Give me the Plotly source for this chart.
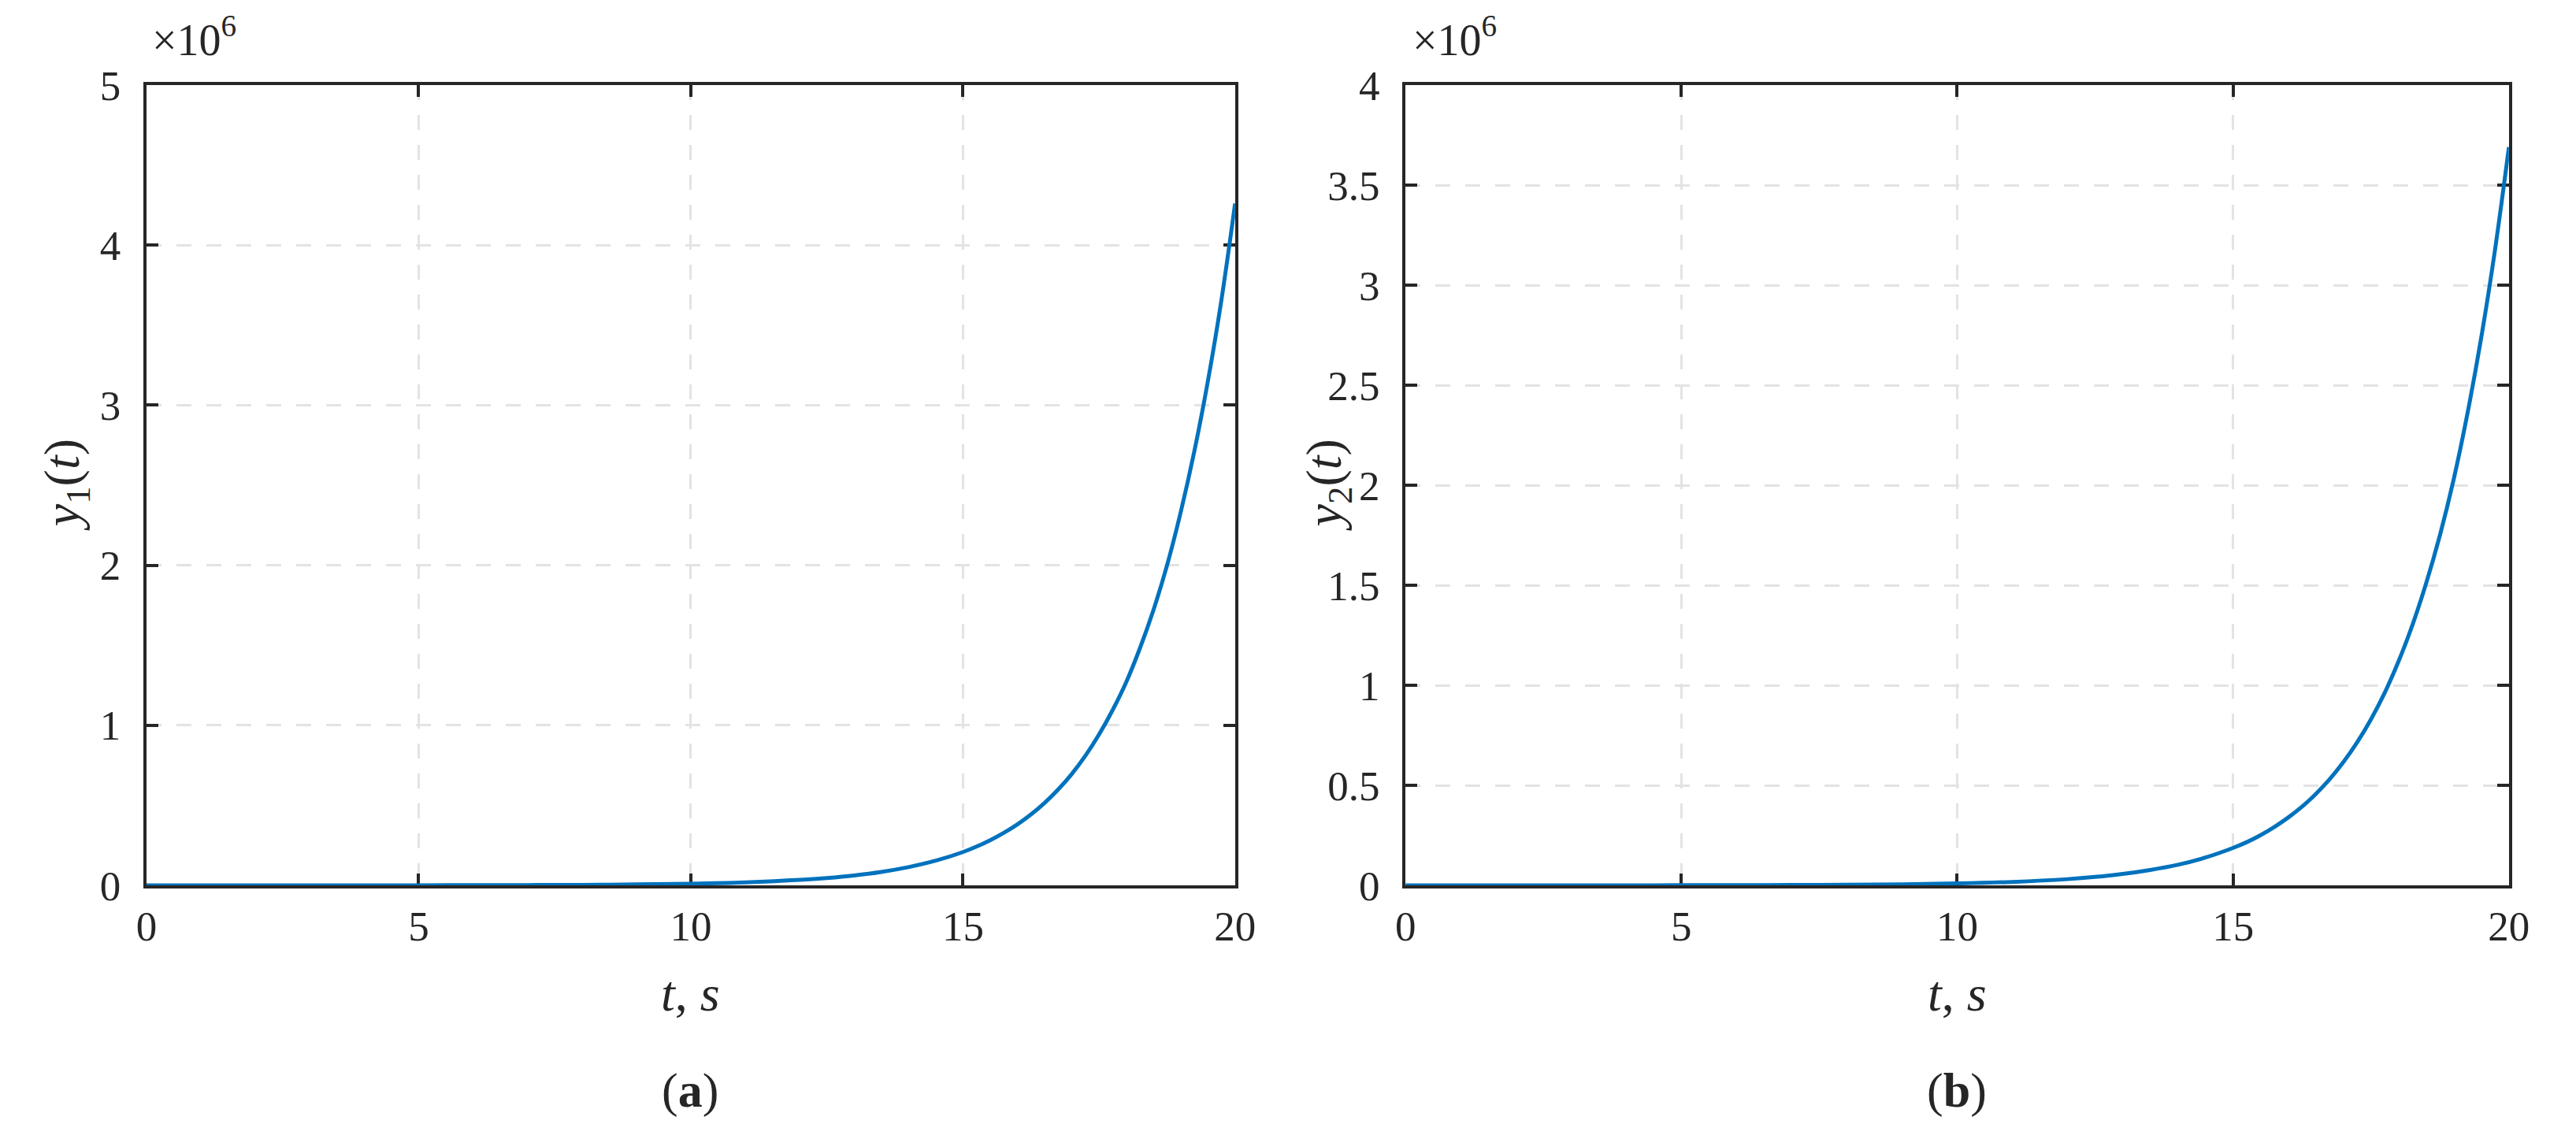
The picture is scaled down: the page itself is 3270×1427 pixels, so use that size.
import plotly.graph_objects as go

# tiempo (s)
t = [0, 1, 2, 3, 4, 5, 6, 7, 8, 9, 10, 11, 12, 12.5, 13, 13.5, 14, 14.5,
     15, 15.25, 15.5, 15.75, 16, 16.25, 16.5, 16.75, 17, 17.25, 17.5, 17.75,
     18, 18.25, 18.5, 18.75, 19, 19.25, 19.5, 19.75, 20]

# valores (en unidades de 1e6)
y1 = [0.00002, 0.00004, 0.00008, 0.00015, 0.0003, 0.0005, 0.0009, 0.0017, 0.0030, 0.0056,
      0.0102, 0.0186, 0.034, 0.046, 0.062, 0.084, 0.114, 0.154,
      0.208, 0.242, 0.282, 0.328, 0.381, 0.443, 0.515, 0.599, 0.696, 0.810, 0.942, 1.095,
      1.27, 1.48, 1.72, 2.00, 2.33, 2.71, 3.15, 3.66, 4.26]
y2 = [0.00003, 0.00005, 0.00008, 0.00015, 0.00027, 0.0005, 0.0009, 0.0016, 0.0029, 0.0052,
      0.0095, 0.0172, 0.031, 0.042, 0.057, 0.077, 0.103, 0.139,
      0.187, 0.216, 0.251, 0.292, 0.339, 0.393, 0.457, 0.530, 0.616, 0.715, 0.830, 0.963,
      1.12, 1.30, 1.51, 1.75, 2.03, 2.36, 2.74, 3.18, 3.69]

x_ticks = [0, 5, 10, 15, 20]
y1_ticks = [0, 1, 2, 3, 4, 5]
y2_ticks = [0, 0.5, 1, 1.5, 2, 2.5, 3, 3.5, 4]

FONT = "Liberation Serif"
AX_COLOR = "#262626"
LINE_COLOR = "#0072BD"
W, H = 3270, 1427
M_TOP, M_BOT = 100, 311

fig = go.Figure()
fig.add_trace(go.Scatter(x=t, y=[v * 1e6 for v in y1], mode="lines", line_shape="spline",
                         line=dict(color=LINE_COLOR, width=5), xaxis="x", yaxis="y"))
fig.add_trace(go.Scatter(x=t, y=[v * 1e6 for v in y2], mode="lines", line_shape="spline",
                         line=dict(color=LINE_COLOR, width=5), xaxis="x2", yaxis="y2"))

axis_style = dict(
    showline=True, linecolor=AX_COLOR, linewidth=4, mirror="ticks",
    ticks="inside", ticklen=15, tickwidth=4, tickcolor=AX_COLOR,
    showgrid=True, gridcolor="#e3e3e3", gridwidth=3, griddash="19px,19px",
    zeroline=False, layer="below traces",
    tickfont=dict(family=FONT, size=53, color=AX_COLOR),
)

fig.update_layout(
    width=W, height=H,
    margin=dict(l=0, r=0, t=M_TOP, b=M_BOT),
    paper_bgcolor="white", plot_bgcolor="white",
    showlegend=False,
    xaxis=dict(domain=[167 / W, 1566 / W], range=[0, 20], tickvals=x_ticks, ticklabelstandoff=2,
               anchor="y", **axis_style),
    yaxis=dict(domain=[0, 1], range=[0, 5e6], tickvals=[v * 1e6 for v in y1_ticks],
               ticktext=[str(v) for v in y1_ticks], ticklabelstandoff=18, anchor="x", **axis_style),
    xaxis2=dict(domain=[1785 / W, 3203 / W], range=[0, 20], tickvals=x_ticks, ticklabelstandoff=2,
                anchor="y2", **axis_style),
    yaxis2=dict(domain=[0, 1], range=[0, 4e6], tickvals=[v * 1e6 for v in y2_ticks],
                ticktext=[f"{v:g}" for v in y2_ticks], ticklabelstandoff=18, anchor="x2", **axis_style),
)

PLOT_H = H - M_TOP - M_BOT


def note(text, x, y, size=64, xanchor="center", **kw):
    # x, y en pixeles de la figura completa
    fig.add_annotation(text=text, x=x / W, y=(H - M_BOT - y) / PLOT_H, xref="paper", yref="paper",
                       xanchor=xanchor, yanchor="middle", showarrow=False,
                       font=dict(family=FONT, size=size, color=AX_COLOR), **kw)


# titulos de ejes, factor de escala y etiquetas de subfigura
note("<i>y</i><sub>1</sub>(<i>t</i>)", 63, 608, textangle=-90)
note("<i>y</i><sub>2</sub>(<i>t</i>)", 1685, 608, textangle=-90)
note("<i>t</i>, <i>s</i>", 866, 1253)
note("<i>t</i>, <i>s</i>", 2494, 1253)
note("×10<sup>6</sup>", 172, 38, size=56, xanchor="left")
note("×10<sup>6</sup>", 1792, 38, size=56, xanchor="left")
note("(<b>a</b>)", 866, 1376, size=62)
note("(<b>b</b>)", 2494, 1376, size=62)

fig.write_html("out.html")
